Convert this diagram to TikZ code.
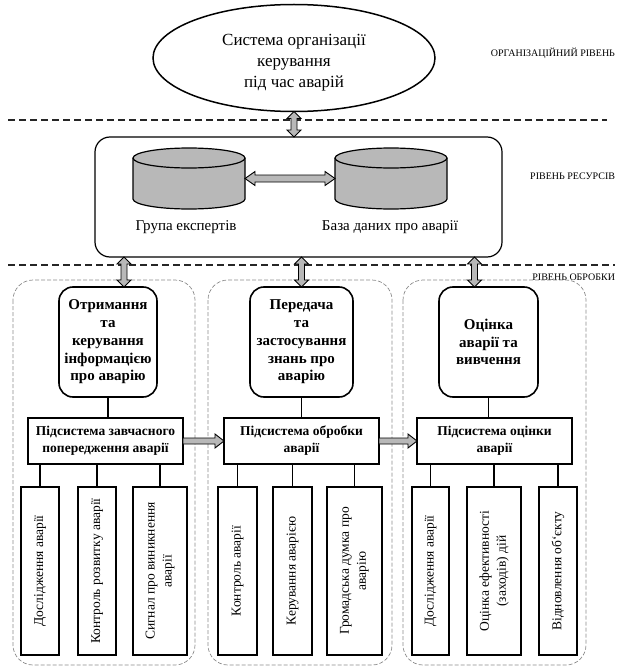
\documentclass[tikz,border=0pt]{standalone}
\usepackage{fontspec}
\setmainfont{Liberation Serif}
\usetikzlibrary{shapes.geometric,calc}
\tikzset{
  every node/.style={inner sep=0pt, outer sep=0pt},
  levelline/.style={draw=black!85, line width=1.3pt, dash pattern=on 7pt off 4pt},
  region/.style={draw=black!45, line width=0.7pt, dash pattern=on 4pt off 2pt, rounded corners=20pt},
  orgshape/.style={ellipse, draw, line width=1.5pt},
  orgtext/.style={align=center, font=\fontsize{17}{21}\selectfont},
  resbox/.style={draw, line width=1.2pt, rounded corners=15pt},
  cyl/.style={draw, line width=1.2pt, fill=black!28},
  cyllabel/.style={font=\fontsize{15}{18}\selectfont},
  topbox/.style={draw, line width=1.6pt, rounded corners=14pt, align=center, font=\bfseries\fontsize{15}{17.8}\selectfont},
  subbox/.style={draw, line width=1.6pt, align=center, font=\bfseries\fontsize{13.5}{17}\selectfont},
  vbox/.style={draw, line width=1.6pt, rotate=90, align=center, minimum width=168pt, font=\fontsize{13.5}{17}\selectfont},
  conn/.style={draw, line width=1.5pt},
  fatarrow/.style={draw, line width=0.9pt, fill=black!28, line join=miter},
  levellabel/.style={anchor=east, font=\fontsize{10}{12}\selectfont}
}
\newcommand{\fatV}[2]{\path[fatarrow] let \p1=#1, \p2=#2 in
  (\x1,\y1) -- (\x1+7pt,\y1-7pt) -- (\x1+3pt,\y1-7pt) -- (\x1+3pt,\y2+7pt) -- (\x1+7pt,\y2+7pt) -- (\x1,\y2)
  -- (\x1-7pt,\y2+7pt) -- (\x1-3pt,\y2+7pt) -- (\x1-3pt,\y1-7pt) -- (\x1-7pt,\y1-7pt) -- cycle;}
\newcommand{\fatH}[2]{\path[fatarrow] let \p1=#1, \p2=#2 in
  (\x1,\y1) -- (\x1+10pt,\y1+7pt) -- (\x1+10pt,\y1+3.5pt) -- (\x2-10pt,\y1+3.5pt) -- (\x2-10pt,\y1+7pt) -- (\x2,\y1)
  -- (\x2-10pt,\y1-7pt) -- (\x2-10pt,\y1-3.5pt) -- (\x1+10pt,\y1-3.5pt) -- (\x1+10pt,\y1-7pt) -- cycle;}
\newcommand{\fatR}[2]{\path[fatarrow] let \p1=#1, \p2=#2 in
  (\x1,\y1+3pt) -- (\x2-9pt,\y1+3pt) -- (\x2-9pt,\y1+7pt) -- (\x2,\y1) -- (\x2-9pt,\y1-7pt) -- (\x2-9pt,\y1-3pt) -- (\x1,\y1-3pt) -- cycle;}
\newcommand{\drawcyl}[1]{%
  \filldraw[cyl] ([yshift=-10pt]#1.north west) -- ([yshift=10pt]#1.south west)
    arc[start angle=180, end angle=360, x radius=56pt, y radius=10pt]
    -- ([yshift=-10pt]#1.north east)
    arc[start angle=0, end angle=180, x radius=56pt, y radius=10pt] -- cycle;
  \draw[line width=1.2pt] ([yshift=-10pt]#1.north west)
    arc[start angle=180, end angle=360, x radius=56pt, y radius=10pt];}
\begin{document}
\begin{tikzpicture}[x=1pt,y=-1pt]
\useasboundingbox (0,0) rectangle (617,666);

% level separators and labels
\draw[levelline] (8,120) -- (607,120);
\draw[levelline] (8,265) -- (615,265);
\node[levellabel] (lv1) at (615,53) {ОРГАНІЗАЦІЙНИЙ РІВЕНЬ};
\node[levellabel] (lv2) at (615,176) {РІВЕНЬ РЕСУРСІВ};
\node[levellabel] (lv3) at (615,277) {РІВЕНЬ ОБРОБКИ};

% processing regions
\draw[region] (13,280) rectangle (195,665);
\draw[region] (208,280) rectangle (392,665);
\draw[region] (403,280) rectangle (586,665);

% organisational level
\node[orgshape, minimum width=282pt, minimum height=107pt] (org) at (294,58) {};
\node[orgtext] (orgt) at (294,63) {Система організації\\керування\\під час аварій};

% resource level
\node[resbox, minimum width=407pt, minimum height=120pt] (res) at (298.5,197) {};
\node[minimum width=112pt, minimum height=61pt] (gexp) at (189,178.5) {};
\node[minimum width=112pt, minimum height=61pt] (db) at (391,178.5) {};
\drawcyl{gexp}
\drawcyl{db}
\node[cyllabel] (gexpl) at (186,227) {Група експертів};
\node[cyllabel] (dbl) at (390,227) {База даних про аварії};
\fatH{(gexp.east)}{(db.west)}
\fatV{(org.south)}{(res.north -| org.south)}

% processing level: top boxes
\node[topbox, minimum width=98pt, minimum height=110pt] (lt) at (108,342) {Отримання\\та\\керування\\інформацією\\про аварію};
\node[topbox, minimum width=103pt, minimum height=110pt] (mt) at (301.5,342) {Передача\\та\\застосування\\знань про\\аварію};
\node[topbox, minimum width=99pt, minimum height=110pt] (rt) at (488.5,342) {Оцінка\\аварії та\\вивчення};

\coordinate (a1) at ([xshift=16pt]lt.north);
\coordinate (a2) at (mt.north);
\coordinate (a3) at ([xshift=-14pt]rt.north);
\fatV{(res.south -| a1)}{(a1)}
\fatV{(res.south -| a2)}{(a2)}
\fatV{(res.south -| a3)}{(a3)}

% subsystems
\node[subbox, minimum width=155pt, minimum height=46pt] (ls) at (105.5,441) {Підсистема завчасного\\попередження аварії};
\node[subbox, minimum width=155pt, minimum height=46pt] (ms) at (301.5,441) {Підсистема обробки\\аварії};
\node[subbox, minimum width=155pt, minimum height=46pt] (rs) at (494.5,441) {Підсистема оцінки\\аварії};

\draw[conn] (lt.south) -- (lt.south |- ls.north);
\draw[conn] (mt.south) -- (mt.south |- ms.north);
\draw[conn] (rt.south) -- (rt.south |- rs.north);

\fatR{(ls.east)}{(ms.west)}
\fatR{(ms.east)}{(rs.west)}

% vertical boxes
\node[vbox, minimum height=38pt] (l1) at (40,571) {Дослідження аварії};
\node[vbox, minimum height=38pt] (l2) at (97,571) {Контроль розвитку аварії};
\node[vbox, minimum height=54pt] (l3) at (160,571) {Сигнал про виникнення\\аварії};
\node[vbox, minimum height=39pt] (m1) at (237.5,571) {Контроль аварії};
\node[vbox, minimum height=39pt] (m2) at (292.5,571) {Керування аварією};
\node[vbox, minimum height=55pt] (m3) at (354.5,571) {Громадська думка про\\аварію};
\node[vbox, minimum height=37pt] (r1) at (430.5,571) {Дослідження аварії};
\node[vbox, minimum height=54pt] (r2) at (494,571) {Оцінка ефективності\\(заходів) дій};
\node[vbox, minimum height=38pt] (r3) at (558,571) {Відновлення об`єкту};

\foreach \b/\s in {l1/ls,l2/ls,l3/ls,m1/ms,m2/ms,m3/ms,r1/rs,r2/rs,r3/rs}
  \draw[conn] (\s.south -| \b) -- (\b.east);

\end{tikzpicture}
\end{document}
